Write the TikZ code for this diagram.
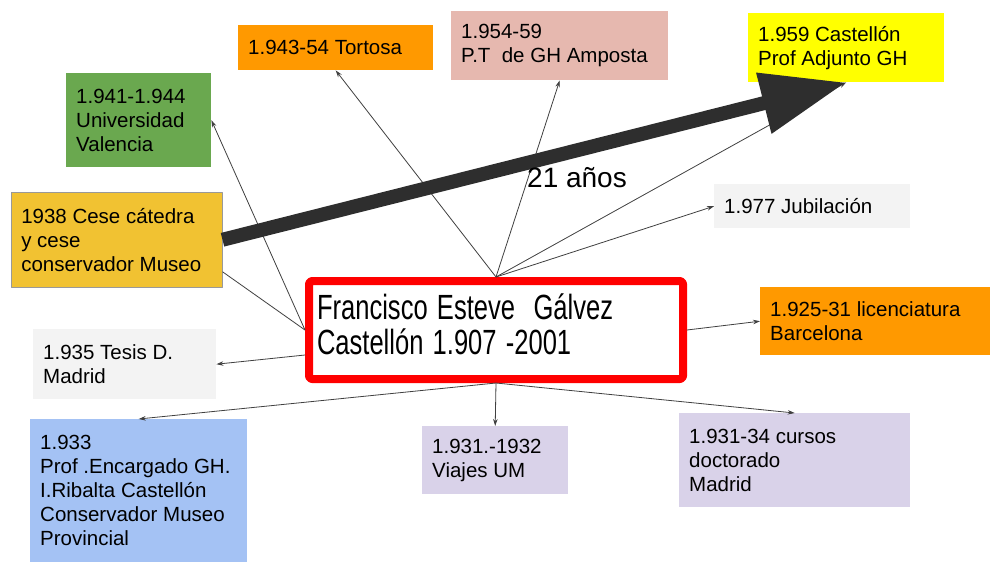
\documentclass[tikz,border=0pt]{standalone}
\usepackage{fontspec}
\setmainfont{Liberation Sans}
\newfontfamily\titlefont[FakeStretch=0.73,WordSpace=1.3]{Liberation Sans}
\usetikzlibrary{arrows.meta}
\definecolor{evgreen}{HTML}{6AA84F}
\definecolor{evorange}{HTML}{FF9900}
\definecolor{evpink}{HTML}{E6B8AF}
\definecolor{evyellow}{HTML}{FFFF00}
\definecolor{evgold}{HTML}{F1C232}
\definecolor{evgray}{HTML}{F3F3F3}
\definecolor{evblue}{HTML}{A4C2F4}
\definecolor{evlila}{HTML}{D9D2E9}
\frenchspacing
\begin{document}
\begin{tikzpicture}[x=1pt,y=-1pt,>={Stealth[length=7pt,width=4.5pt]},line join=round,
    evt/.style={anchor=north west,inner xsep=10pt,inner ysep=0pt,align=flush left,
      font=\fontsize{20.5}{24}\selectfont},
    conn/.style={->,draw=black!75,line width=0.8pt}]
    \useasboundingbox[fill=white] (0,0) rectangle (993,574);
    % cuadros
    \node[evt,fill=evgreen,text width=125pt,minimum height=94pt] (valencia) at (66,73) {1.941-1.944\\Universidad\\Valencia};
    \node[evt,fill=evorange,text width=175pt,minimum height=45pt] (tortosa) at (238,25) {1.943-54 Tortosa};
    \node[evt,fill=evpink,text width=197pt,minimum height=69pt] (amposta) at (451,11) {1.954-59\\P.T~ de GH Amposta};
    \node[evt,fill=evyellow,text width=176pt,minimum height=69pt] (adjunto) at (748,13) {1.959 Castellón\\Prof Adjunto GH};
    \node[evt,fill=evgold,draw=black!40,line width=0.5pt,text width=191pt,minimum height=95pt] (cese) at (11,192) {1938 Cese cátedra\\y cese\\conservador Museo};
    \node[evt,fill=evgray,text width=176pt,minimum height=44pt] (jubil) at (714,184) {1.977 Jubilación};
    \node[evt,fill=evorange,text width=210pt,minimum height=68pt] (licen) at (760,287) {1.925-31 licenciatura\\Barcelona};
    \node[evt,fill=evgray,text width=163pt,minimum height=70pt] (tesis) at (33,329) {1.935 Tesis D.\\Madrid};
    \node[evt,fill=evblue,text width=197pt,minimum height=143pt] (ribalta) at (30,419) {1.933\\Prof .Encargado GH.\\I.Ribalta Castellón\\Conservador Museo\\Provincial};
    \node[evt,fill=evlila,text width=126pt,minimum height=68pt] (viajes) at (422,426) {1.931.-1932\\Viajes UM};
    \node[evt,fill=evlila,text width=211pt,minimum height=94pt] (cursos) at (679,413) {1.931-34 cursos\\doctorado\\Madrid};
    % cuadro central
    \node[anchor=north west,draw=red,fill=white,line width=8pt,rounded corners=3pt,
      minimum height=98pt,text width=358pt,inner xsep=8pt,inner ysep=0pt,align=flush left,
      font=\titlefont\fontsize{35}{35}\selectfont] (main) at (305,277)
      {Francisco Esteve~ Gálvez\\Castellón 1.907 -2001\rule[-12pt]{0pt}{0pt}};
    % conectores
    \draw[conn] (main.west) -- (valencia.east);
    \draw[draw=black!75,line width=0.8pt] (main.west) -- ([yshift=-32pt]cese.east);
    \draw[conn] ([yshift=-25pt]main.west) -- (tesis.east);
    \draw[conn] (main.north) -- (tortosa.south);
    \draw[conn] (main.north) -- (amposta.south);
    \draw[conn] (main.north) -- (adjunto.south);
    \draw[conn] (main.north) -- (jubil.west);
    \draw[conn] (main.east) -- (licen.west);
    \draw[conn] (main.south) -- (ribalta.north);
    \draw[conn] (main.south) -- (viajes.north);
    \draw[conn] (main.south) -- (cursos.north);
    % flecha gruesa
    \draw[line width=14pt,draw=black!82,-{Triangle[length=85pt,width=59pt,fill=black!82]}] (cese.east) -- (adjunto.south);
    \node[font=\fontsize{28}{30}\selectfont] (anios) at (577,178) {21 años};
\end{tikzpicture}
\end{document}
